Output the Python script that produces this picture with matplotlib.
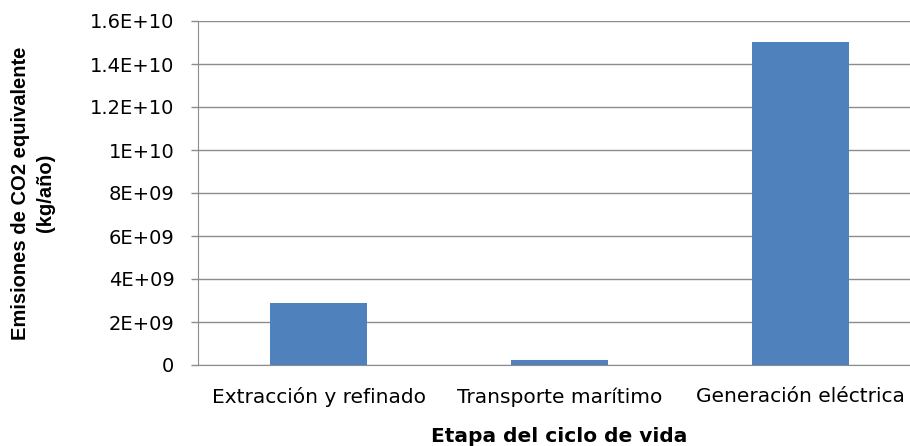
import matplotlib
matplotlib.use('Agg')
import matplotlib.pyplot as plt
from matplotlib.ticker import FuncFormatter, MultipleLocator

# data
etapas = ['Extracción y refinado', 'Transporte marítimo', 'Generación eléctrica']
emisiones = [2.87e9, 0.22e9, 1.502e10]

fig = plt.figure(figsize=(9.10, 4.46), dpi=100)
ax = fig.add_axes([198/910, 1-365/446, 723/910, 344/446])

gris = '#8c8c8c'
ax.bar(range(len(etapas)), emisiones, width=0.4, color='#4f81bd', zorder=3)

ax.set_xlim(-0.5, 2.5)
ax.set_ylim(0, 1.6e10)
ax.yaxis.set_major_locator(MultipleLocator(2e9))
ax.yaxis.set_major_formatter(FuncFormatter(lambda v, p: '0' if v == 0 else '{:G}'.format(v)))
ax.grid(axis='y', color=gris, lw=1, zorder=0)

ax.set_xticks(range(len(etapas)))
ax.set_xticklabels(etapas)
ax.tick_params(axis='x', length=0, pad=16, labelsize=14.5, colors='black')
ax.tick_params(axis='y', length=5, width=1, color=gris, pad=12, labelsize=14)

for s in ['top', 'right']:
    ax.spines[s].set_visible(False)
ax.spines['left'].set_color(gris)
ax.spines['bottom'].set_color(gris)

ax.set_xlabel('Etapa del ciclo de vida', fontsize=14.5, fontweight='bold', labelpad=14)
fig.text(33/910, 1-193/446, 'Emisiones de CO2 equivalente\n(kg/año)', rotation=90,
         ha='center', va='center', fontsize=14.5, fontweight='bold',
         family='Liberation Sans', linespacing=1.4, multialignment='center')

fig.savefig('out.png', dpi=100)
